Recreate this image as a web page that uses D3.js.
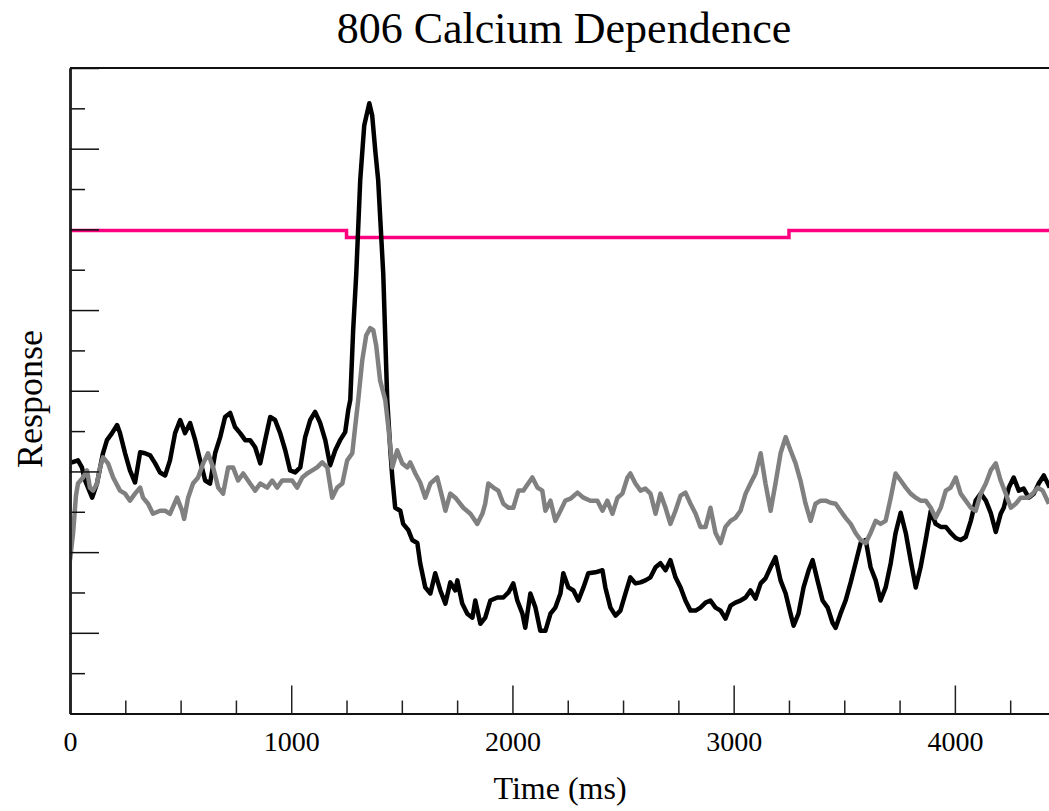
<!DOCTYPE html>
<html>
<head>
<meta charset="utf-8">
<script src="https://d3js.org/d3.v7.min.js"></script>
<style>
  body { margin: 0; background: #fff; }
  svg { display: block; font-family: "Liberation Serif", "Times New Roman", serif; }
</style>
</head>
<body>
<div id="chart"></div>
<script>
// chart text
const title = "806 Calcium Dependence";
const xLabel = "Time (ms)";
const yLabel = "Response";

// x ticks (ms), labelled majors and minor steps
const xMajorTicks = [0, 1000, 2000, 3000, 4000];
const xMinorTicks = [250, 500, 750, 1250, 1500, 1750, 2250, 2500, 2750, 3250, 3500, 3750, 4250];
// y ticks (response units, no labels on the original)
const yMajorTicks = [0, 80, 160, 240, 320, 400, 480, 560, 640];
const yMinorTicks = [40, 120, 200, 280, 360, 440, 520, 600];

// stimulus step (pink)
const stepTimes = [0, 1250, 3250, 4430];
const stepLevels = [479, 472, 479, 479];

// black trace [time ms, response]
const blackTrace = [
  [0,250],[9,249],[36,251],[54,244],[68,231],[100,214],[122,228],[149,258],[167,271],[190,278],
  [213,286],[226,278],[249,258],[271,241],[294,229],[317,259],[339,258],[362,256],[385,248],[407,239],
  [430,236],[452,251],[475,278],[498,291],[520,278],[543,288],[566,271],[588,251],[611,231],[633,228],
  [656,258],[679,274],[701,294],[724,298],[746,284],[769,278],[792,271],[814,271],[837,264],[860,248],
  [882,271],[905,294],[927,291],[950,278],[973,261],[995,241],[1018,239],[1041,244],[1063,274],[1086,291],
  [1108,299],[1131,288],[1154,271],[1176,246],[1199,261],[1221,271],[1244,279],[1258,301],[1267,311],[1280,380],
  [1294,436],[1312,529],[1330,583],[1353,605],[1366,593],[1380,558],[1393,529],[1416,436],[1434,311],[1448,261],
  [1457,234],[1470,204],[1493,201],[1506,188],[1529,182],[1547,172],[1570,169],[1583,149],[1606,125],[1629,119],
  [1651,139],[1674,122],[1697,109],[1719,130],[1742,122],[1751,132],[1773,109],[1796,99],[1819,95],[1832,112],
  [1855,89],[1877,95],[1900,112],[1932,115],[1959,115],[1982,120],[2004,129],[2022,112],[2045,99],[2058,85],
  [2081,119],[2104,105],[2126,82],[2149,82],[2172,99],[2194,105],[2217,119],[2230,139],[2253,125],[2276,122],
  [2298,112],[2321,125],[2343,139],[2375,140],[2407,142],[2420,125],[2443,105],[2466,97],[2488,102],[2511,119],
  [2533,135],[2556,129],[2579,130],[2601,132],[2624,135],[2647,145],[2669,149],[2692,142],[2714,152],[2737,135],
  [2760,125],[2782,112],[2805,102],[2828,102],[2850,105],[2873,110],[2895,112],[2918,105],[2941,102],[2963,94],
  [2986,107],[3008,110],[3031,112],[3054,115],[3076,122],[3099,114],[3122,129],[3144,134],[3167,145],[3189,155],
  [3212,132],[3235,119],[3257,99],[3271,87],[3293,99],[3316,125],[3339,142],[3357,152],[3379,132],[3402,112],
  [3425,105],[3447,90],[3461,85],[3483,99],[3506,112],[3529,130],[3551,149],[3574,169],[3597,172],[3619,145],
  [3642,132],[3664,112],[3687,125],[3710,149],[3732,179],[3755,199],[3778,179],[3800,152],[3823,125],[3845,145],
  [3868,172],[3891,201],[3913,188],[3936,185],[3959,185],[3981,179],[4004,174],[4026,172],[4049,175],[4072,191],
  [4094,211],[4117,218],[4140,211],[4162,199],[4185,180],[4207,198],[4221,204],[4244,224],[4266,234],[4289,221],
  [4311,223],[4334,214],[4357,218],[4379,228],[4402,236],[4429,224]
];

// gray trace [time ms, response]
const grayTrace = [
  [0,152],[14,179],[27,216],[36,228],[59,234],[77,241],[90,224],[104,221],[122,228],[136,244],
  [149,254],[172,248],[195,234],[226,221],[249,218],[271,211],[294,218],[317,224],[330,214],[353,208],
  [375,198],[407,201],[430,201],[452,198],[484,214],[507,201],[516,193],[534,214],[556,228],[579,234],
  [602,248],[624,258],[647,244],[670,224],[692,218],[715,244],[737,244],[760,231],[783,238],[814,228],
  [837,221],[860,228],[891,224],[914,231],[936,224],[959,231],[982,231],[1004,231],[1027,224],[1050,234],
  [1072,238],[1095,241],[1117,244],[1140,249],[1163,244],[1185,214],[1208,224],[1231,228],[1253,251],[1276,258],
  [1289,284],[1303,311],[1321,350],[1339,375],[1357,382],[1371,380],[1384,365],[1402,330],[1425,311],[1439,284],
  [1457,244],[1479,261],[1502,248],[1525,244],[1538,249],[1561,238],[1583,229],[1606,214],[1629,228],[1660,234],
  [1683,214],[1697,201],[1719,218],[1742,214],[1778,204],[1810,198],[1841,188],[1864,198],[1877,208],[1891,228],
  [1914,224],[1936,221],[1959,208],[1982,204],[2004,204],[2027,221],[2049,221],[2090,234],[2113,224],[2135,221],
  [2149,201],[2172,211],[2194,191],[2217,201],[2239,211],[2262,213],[2294,219],[2321,214],[2352,211],[2384,211],
  [2407,201],[2429,211],[2452,198],[2475,214],[2497,218],[2520,234],[2533,238],[2556,228],[2579,221],[2601,223],
  [2624,218],[2647,198],[2669,218],[2692,204],[2714,188],[2737,201],[2760,216],[2782,219],[2805,208],[2828,198],
  [2850,185],[2873,185],[2895,204],[2918,179],[2941,169],[2963,185],[2986,191],[3008,194],[3031,201],[3054,218],
  [3076,228],[3099,238],[3122,258],[3144,228],[3167,201],[3189,228],[3212,258],[3235,274],[3257,261],[3280,248],
  [3302,231],[3325,208],[3348,191],[3370,208],[3393,211],[3416,211],[3438,209],[3461,208],[3483,201],[3506,194],
  [3529,188],[3551,179],[3574,172],[3597,169],[3619,179],[3642,191],[3664,188],[3687,191],[3710,214],[3732,238],
  [3755,231],[3778,224],[3800,218],[3823,214],[3845,211],[3868,211],[3891,204],[3913,194],[3936,204],[3959,221],
  [3981,224],[4004,234],[4026,218],[4049,211],[4072,204],[4094,201],[4117,218],[4140,228],[4162,241],[4185,248],
  [4207,231],[4230,218],[4253,204],[4275,208],[4298,214],[4329,214],[4352,218],[4375,224],[4397,221],[4425,208]
];

const width = 1049;
const height = 811;

const x = d3.scaleLinear().domain([0, 4430]).range([70, 1050]);
const y = d3.scaleLinear().domain([0, 640]).range([713.5, 68]);

const svg = d3.select("#chart").append("svg")
  .attr("width", width)
  .attr("height", height);

svg.append("defs").append("clipPath").attr("id", "plot")
  .append("rect")
  .attr("x", x(0)).attr("y", y(640))
  .attr("width", width - x(0)).attr("height", y(0) - y(640));

// title
svg.append("text")
  .attr("x", 564).attr("y", 43)
  .attr("text-anchor", "middle")
  .style("font-size", "44px")
  .text(title);

// traces
const plot = svg.append("g").attr("clip-path", "url(#plot)");

const stepData = stepTimes.map((t, i) => [t, stepLevels[i]]);
plot.append("path")
  .datum(stepData)
  .attr("fill", "none")
  .attr("stroke", "#ff0080")
  .attr("stroke-width", 3.5)
  .attr("d", d3.line().curve(d3.curveStepAfter).x(d => x(d[0])).y(d => y(d[1])));

const line = d3.line().x(d => x(d[0])).y(d => y(d[1]));

plot.append("path")
  .datum(blackTrace)
  .attr("fill", "none")
  .attr("stroke", "#000")
  .attr("stroke-width", 4.5)
  .attr("stroke-linejoin", "round")
  .attr("d", line);

plot.append("path")
  .datum(grayTrace)
  .attr("fill", "none")
  .attr("stroke", "#808080")
  .attr("stroke-width", 4.5)
  .attr("stroke-linejoin", "round")
  .attr("d", line);

// top frame line
svg.append("line")
  .attr("x1", x(0)).attr("x2", width)
  .attr("y1", y(640)).attr("y2", y(640))
  .attr("stroke", "#111").attr("stroke-width", 2);

// x axis, ticks pointing up into the plot
const xAxisG = svg.append("g").attr("transform", `translate(0,${y(0)})`);
xAxisG.append("g")
  .call(d3.axisBottom(x).tickValues(xMinorTicks).tickSize(-13).tickSizeOuter(0).tickFormat(""));
xAxisG.append("g")
  .call(d3.axisBottom(x).tickValues(xMajorTicks).tickSize(-28).tickSizeOuter(0).tickPadding(18).tickFormat(d3.format("d")));
xAxisG.selectAll(".domain").attr("stroke", "#111").attr("stroke-width", 2);
xAxisG.selectAll(".tick line").attr("stroke", "#222").attr("stroke-width", 1.5);
xAxisG.selectAll("text")
  .style("font-family", "'Liberation Serif', 'Times New Roman', serif")
  .style("font-size", "28px")
  .attr("fill", "#000");

// y axis, ticks pointing right, no labels
const yAxisG = svg.append("g").attr("transform", `translate(${x(0)},0)`);
yAxisG.append("g")
  .call(d3.axisRight(y).tickValues(yMinorTicks).tickSize(15).tickSizeOuter(0).tickFormat(""));
yAxisG.append("g")
  .call(d3.axisRight(y).tickValues(yMajorTicks).tickSize(29).tickSizeOuter(0).tickFormat(""));
yAxisG.selectAll(".domain").attr("stroke", "#222").attr("stroke-width", 2.5);
yAxisG.selectAll(".tick line").attr("stroke", "#111").attr("stroke-width", 1.5);

// axis titles
svg.append("text")
  .attr("x", 560).attr("y", 799)
  .attr("text-anchor", "middle")
  .style("font-size", "32px")
  .text(xLabel);

svg.append("text")
  .attr("transform", "translate(42,399) rotate(-90)")
  .attr("text-anchor", "middle")
  .style("font-size", "36px")
  .text(yLabel);
</script>
</body>
</html>
